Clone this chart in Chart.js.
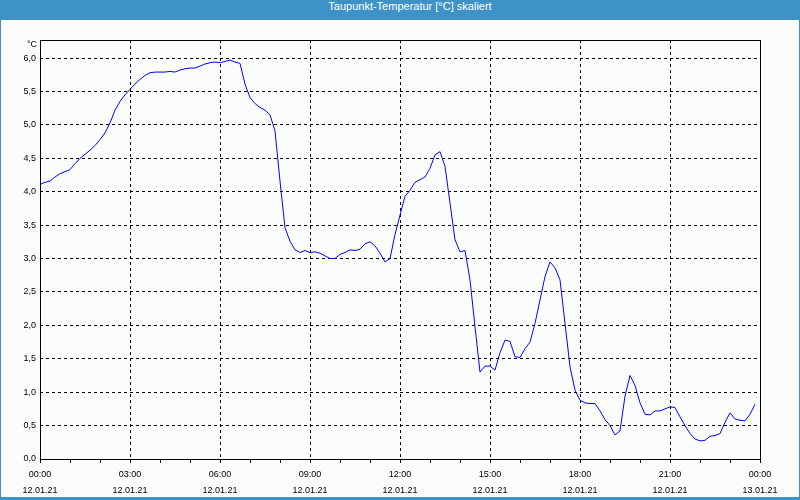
<!DOCTYPE html>
<html>
<head>
<meta charset="utf-8">
<script src="https://cdn.jsdelivr.net/npm/chart.js@4"></script>
<style>
  body { margin: 0; }
  #frame { position: relative; width: 800px; height: 500px; background: #3d92c8; }
  #title { height: 20px; line-height: 20px; color: #fff; text-align: center;
           font: 11px "Liberation Sans", Arial, sans-serif; padding-left: 20px; box-sizing: border-box; }
  #plot { position: absolute; left: 1px; top: 20px; width: 798px; height: 477px; background: #fbfdfb; }
</style>
</head>
<body>
<div id="frame">
  <div id="title">Taupunkt-Temperatur [°C] skaliert</div>
  <div id="plot"><canvas id="c" width="798" height="477"></canvas></div>
</div>
<script>
// dew point, one value every 10 minutes from 12.01.21 00:00 to 23:50
const stepMinutes = 10;
const temps = [
  4.11, 4.14, 4.16, 4.22, 4.27, 4.30,
  4.33, 4.42, 4.50, 4.56, 4.62, 4.69,
  4.78, 4.88, 5.03, 5.22, 5.35, 5.45,
  5.53, 5.61, 5.68, 5.74, 5.78, 5.79,
  5.79, 5.79, 5.80, 5.79, 5.82, 5.84,
  5.85, 5.85, 5.88, 5.91, 5.93, 5.94,
  5.93, 5.95, 5.97, 5.94, 5.92, 5.61,
  5.41, 5.32, 5.26, 5.22, 5.15, 4.91,
  4.16, 3.46, 3.26, 3.13, 3.09, 3.12,
  3.09, 3.10, 3.08, 3.04, 3.00, 3.00,
  3.06, 3.09, 3.13, 3.12, 3.14, 3.22,
  3.25, 3.19, 3.08, 2.95, 3.00, 3.36,
  3.65, 3.93, 4.02, 4.14, 4.18, 4.22,
  4.35, 4.55, 4.60, 4.38, 3.83, 3.28,
  3.10, 3.12, 2.68, 1.98, 1.30, 1.39,
  1.39, 1.33, 1.59, 1.78, 1.76, 1.53,
  1.52, 1.65, 1.75, 2.03, 2.38, 2.73,
  2.95, 2.86, 2.68, 2.03, 1.38, 1.03,
  0.88, 0.84, 0.83, 0.83, 0.72, 0.59,
  0.50, 0.36, 0.42, 0.94, 1.25, 1.10,
  0.84, 0.67, 0.66, 0.72, 0.72, 0.75,
  0.78, 0.77, 0.63, 0.50, 0.38, 0.30,
  0.27, 0.28, 0.34, 0.35, 0.38, 0.55,
  0.69, 0.60, 0.58, 0.57, 0.67, 0.82
];

const tickTimes = ['00:00', '03:00', '06:00', '09:00', '12:00', '15:00', '18:00', '21:00', '00:00'];
const tickDates = ['12.01.21', '12.01.21', '12.01.21', '12.01.21', '12.01.21', '12.01.21', '12.01.21', '12.01.21', '13.01.21'];
const yUnit = '°C';

const points = temps.map((t, i) => ({ x: i * stepMinutes / 60, y: t }));

const frameBox = {
  id: 'frameBox',
  afterDatasetsDraw(chart) {
    const { ctx, chartArea: a } = chart;
    const l = Math.round(a.left), t = Math.round(a.top), r = Math.round(a.right), b = Math.round(a.bottom);
    ctx.save();
    ctx.strokeStyle = '#000';
    ctx.lineWidth = 1;
    ctx.strokeRect(l + 0.5, t + 0.5, r - l, b - t);
    ctx.fillStyle = '#000';
    ctx.font = '9px "Liberation Sans", Arial, sans-serif';
    ctx.textAlign = 'right';
    ctx.textBaseline = 'middle';
    ctx.fillText(yUnit, l - 3, t + 5);
    ctx.restore();
  }
};

const tickFont = { family: '"Liberation Sans", Arial, sans-serif', size: 9 };

new Chart(document.getElementById('c'), {
  type: 'line',
  data: {
    datasets: [{
      data: points,
      borderColor: '#0000ff',
      borderWidth: 1,
      pointRadius: 0,
      tension: 0,
      fill: false
    }]
  },
  options: {
    responsive: false,
    animation: false,
    layout: { padding: { top: 20, right: 39, bottom: 0, left: 0 } },
    plugins: { legend: { display: false }, tooltip: { enabled: false } },
    scales: {
      x: {
        type: 'linear',
        min: 0,
        max: 24,
        afterFit: (s) => { s.height = 38; },
        ticks: {
          stepSize: 1,
          autoSkip: false,
          maxRotation: 0,
          padding: 3,
          color: '#000',
          font: { ...tickFont, lineHeight: 1.8 },
          callback: (v) => v % 3 === 0 ? [tickTimes[v / 3], tickDates[v / 3]] : ''
        },
        grid: {
          color: (c) => (c.tick && c.tick.value % 3 === 0) ? '#000' : 'rgba(0,0,0,0)',
          tickColor: '#000',
          tickLength: 4,
          drawTicks: true
        },
        border: { display: false, dash: [3, 3] }
      },
      y: {
        min: 0,
        max: 6.27,
        afterFit: (s) => { s.width = 39; },
        ticks: {
          stepSize: 0.5,
          includeBounds: false,
          padding: 4,
          color: '#000',
          font: tickFont,
          callback: (v) => v.toFixed(1).replace('.', ',')
        },
        grid: { color: '#000', drawTicks: false },
        border: { display: false, dash: [3, 3] }
      }
    }
  },
  plugins: [frameBox]
});
</script>
</body>
</html>
